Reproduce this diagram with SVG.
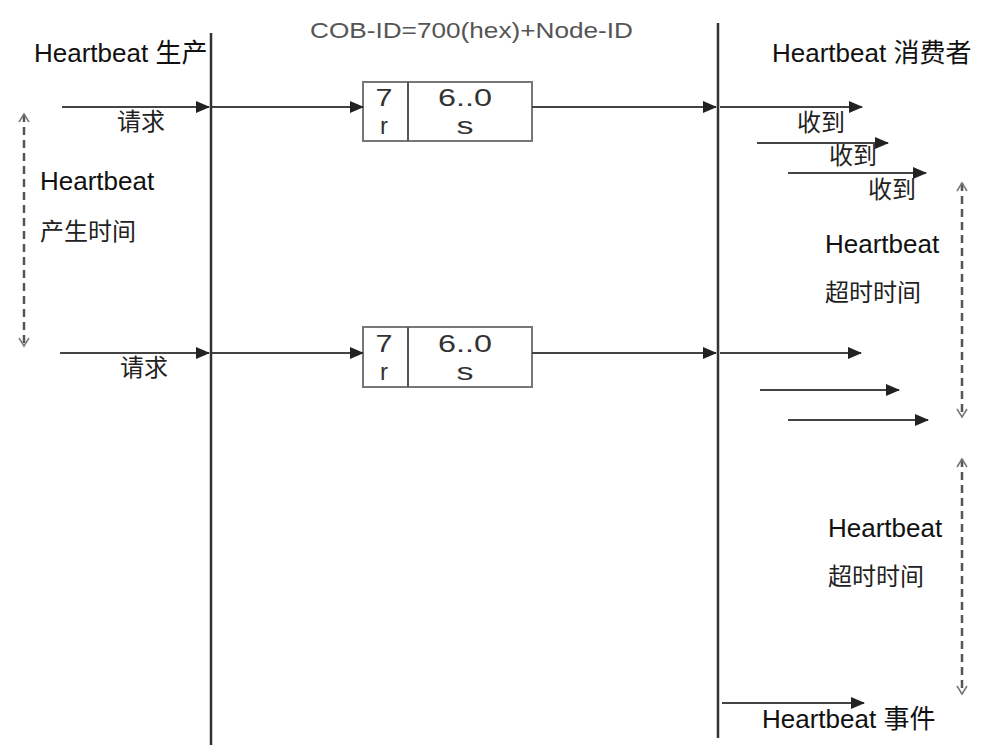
<svg xmlns="http://www.w3.org/2000/svg" width="1001" height="756" viewBox="0 0 1001 756">
<style>
.lbl{font-family:"Liberation Sans",Arial,"Noto Sans CJK SC",sans-serif;font-size:26px;fill:#111}
.cjk{font-family:"Liberation Sans","Noto Sans CJK SC",sans-serif;font-size:24px;fill:#222}
.gray{font-family:"Liberation Sans",Arial,sans-serif;font-size:22px;fill:#555}
.bt{font-family:"Liberation Sans",Arial,sans-serif;font-size:24px;fill:#333;text-anchor:middle}
.box{fill:#fff;stroke:#777;stroke-width:2}
.life{stroke:#333;stroke-width:2.5}
.msg{stroke:#444;stroke-width:2;fill:none;marker-end:url(#ah)}
.dash{stroke:#555;stroke-width:2.5;stroke-dasharray:8 5;fill:none;marker-start:url(#open);marker-end:url(#open)}
</style>
<defs>
<marker id="ah" markerWidth="14" markerHeight="12" refX="13" refY="6" orient="auto" markerUnits="userSpaceOnUse">
<path d="M0,0 L14,6 L0,12 Z" fill="#222"/>
</marker>
<marker id="open" markerWidth="14" markerHeight="12" refX="10" refY="6" orient="auto-start-reverse" markerUnits="userSpaceOnUse">
<path d="M2,1 L10,6 L2,11" fill="none" stroke="#777" stroke-width="1.5"/>
</marker>
</defs>
<rect width="1001" height="756" fill="#fff"/>

<g id="producer">
<line class="life" x1="211" y1="33" x2="211" y2="745"/>
<text class="lbl" x="34" y="62">Heartbeat 生产</text>
</g>
<g id="consumer">
<line class="life" x1="718" y1="23" x2="718" y2="738"/>
<text class="lbl" x="772" y="62">Heartbeat 消费者</text>
</g>
<g id="cobid">
<text class="gray" x="310" y="38" textLength="323" lengthAdjust="spacingAndGlyphs">COB-ID=700(hex)+Node-ID</text>
</g>

<g id="frame1">
<rect class="box" x="363" y="82" width="169" height="59"/>
<line x1="408" y1="82" x2="408" y2="141" stroke="#555" stroke-width="2"/>
<text class="bt" x="384" y="106" textLength="17" lengthAdjust="spacingAndGlyphs">7</text>
<text class="bt" x="384" y="134">r</text>
<text class="bt" x="465" y="106" textLength="54" lengthAdjust="spacingAndGlyphs">6..0</text>
<text class="bt" x="465" y="134" textLength="17" lengthAdjust="spacingAndGlyphs">s</text>
</g>
<g id="frame2">
<rect class="box" x="363" y="327" width="169" height="60"/>
<line x1="408" y1="327" x2="408" y2="387" stroke="#555" stroke-width="2"/>
<text class="bt" x="384" y="352" textLength="17" lengthAdjust="spacingAndGlyphs">7</text>
<text class="bt" x="384" y="380">r</text>
<text class="bt" x="465" y="352" textLength="54" lengthAdjust="spacingAndGlyphs">6..0</text>
<text class="bt" x="465" y="380" textLength="17" lengthAdjust="spacingAndGlyphs">s</text>
</g>

<g id="producer-time">
<text class="lbl" x="40" y="190">Heartbeat</text>
<text class="cjk" x="40" y="240" font-size="26">产生时间</text>
</g>
<g id="consumer-timeout1">
<text class="lbl" x="825" y="253">Heartbeat</text>
<text class="cjk" x="825" y="301" font-size="26">超时时间</text>
</g>
<g id="consumer-timeout2">
<text class="lbl" x="828" y="537">Heartbeat</text>
<text class="cjk" x="828" y="585" font-size="26">超时时间</text>
</g>
<g id="labels">
<text class="cjk" x="117" y="130">请求</text>
<text class="cjk" x="120" y="376">请求</text>
<text class="cjk" x="797" y="131">收到</text>
<text class="cjk" x="829" y="164">收到</text>
<text class="cjk" x="868" y="198">收到</text>
<text class="lbl" x="762" y="728">Heartbeat 事件</text>
</g>

<g id="connectors">
<line class="msg" x1="62" y1="107" x2="209" y2="107"/>
<line class="msg" x1="212" y1="107" x2="363" y2="107"/>
<line class="msg" x1="532" y1="107" x2="716" y2="107"/>
<line class="msg" x1="720" y1="107" x2="862" y2="107"/>
<line class="msg" x1="757" y1="143" x2="888" y2="143"/>
<line class="msg" x1="788" y1="173" x2="926" y2="173"/>
<line class="msg" x1="60" y1="353" x2="209" y2="353"/>
<line class="msg" x1="212" y1="353" x2="363" y2="353"/>
<line class="msg" x1="532" y1="353" x2="716" y2="353"/>
<line class="msg" x1="720" y1="353" x2="861" y2="353"/>
<line class="msg" x1="760" y1="390" x2="899" y2="390"/>
<line class="msg" x1="788" y1="420" x2="928" y2="420"/>
<line class="msg" x1="722" y1="703" x2="864" y2="703"/>
<line class="dash" x1="24" y1="114" x2="24" y2="346"/>
<line class="dash" x1="962" y1="183" x2="962" y2="417"/>
<line class="dash" x1="962" y1="459" x2="962" y2="694"/>
</g>
</svg>
